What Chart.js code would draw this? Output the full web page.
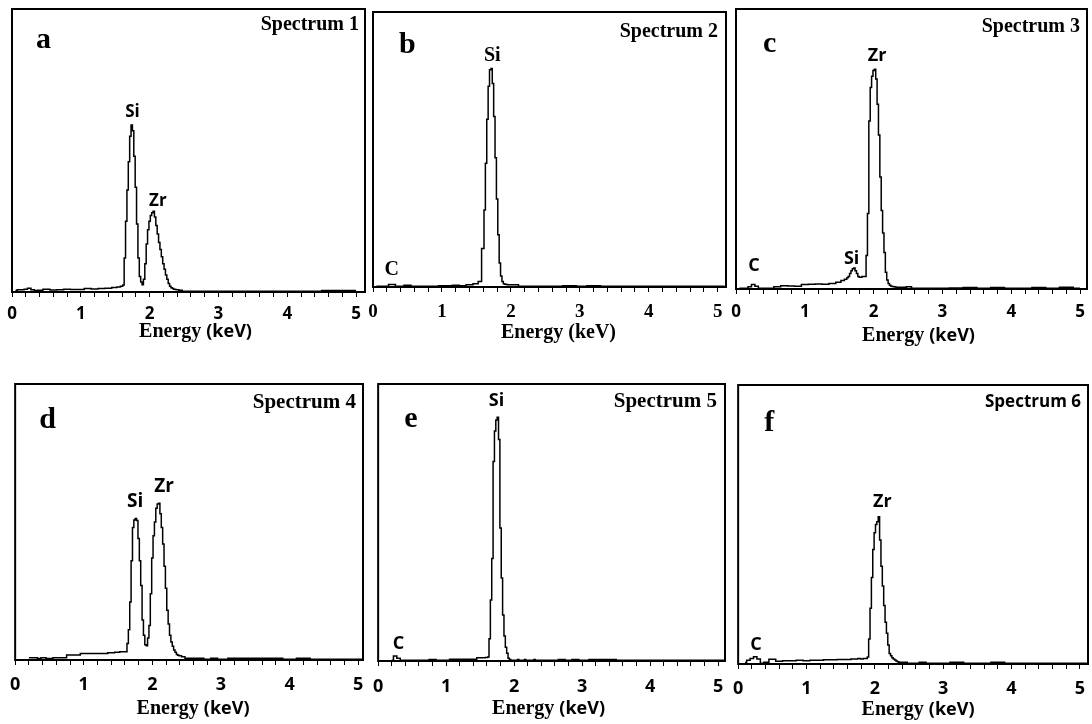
<!DOCTYPE html>
<html>
<head>
<meta charset="utf-8">
<script src="https://cdn.jsdelivr.net/npm/chart.js@4.4.1/dist/chart.umd.min.js"></script>
<style>
  html, body { margin: 0; padding: 0; background: #fff; }
  #wrap { position: relative; width: 1092px; height: 724px; overflow: hidden; }
  .panel { position: absolute; }
</style>
</head>
<body>
<div id="wrap"></div>
<script>
// Energy grid (keV), shared by the six spectra
const energy = [
  0.05, 0.10, 0.15, 0.20, 0.25, 0.30, 0.35, 0.40, 0.50, 0.60, 0.70, 0.80, 0.90, 1.00, 1.10, 1.20, 1.30, 1.40, 1.50, 1.55, 1.60,
  1.62, 1.64, 1.66, 1.68, 1.70, 1.72, 1.74, 1.76, 1.78, 1.80, 1.82, 1.84, 1.86, 1.88, 1.90, 1.92, 1.94, 1.96, 1.98, 2.00,
  2.02, 2.04, 2.06, 2.08, 2.10, 2.12, 2.14, 2.16, 2.18, 2.20, 2.22, 2.24, 2.26, 2.28, 2.30, 2.32, 2.34, 2.36, 2.38, 2.40,
  2.45, 2.50, 2.60, 2.70, 2.80, 2.90, 3.00, 3.20, 3.40, 3.60, 3.80, 4.00, 4.20, 4.40, 4.60, 4.80, 5.00, 5.10
];

// Counts, in % of full scale
const countsA = [
  0.5, 0.8, 0.8, 1.0, 1.3, 0.8, 0.5, 0.6, 1.0, 0.7, 0.8, 1.0, 0.9, 0.9, 1.2, 1.1, 1.2, 1.3, 1.6, 1.8, 2.0,
  2.5, 12, 25, 36, 46, 55, 59, 57, 48, 37, 24, 12, 5.5, 3.5, 2.6, 4.5, 10, 17, 22, 25,
  27, 28, 28.5, 26.5, 23.5, 20.5, 17.5, 15, 12.5, 10, 8, 6, 4.5, 3, 2, 1.5, 1.2, 1, 0.9, 0.8,
  0.6, 0.3, 0.3, 0.3, 0.3, 0.3, 0.3, 0.3, 0.3, 0.3, 0.3, 0.3, 0.3, 0.3, 0.5, 0.5, 0.5, null
];
const countsB = [
  0.3, 0.3, 0.3, 0.3, 0.9, 0.9, 0.3, 0.3, 0.6, 0.3, 0.3, 0.3, 0.3, 0.5, 0.5, 0.6, 0.5, 0.8, 1.2, 2.0, 14,
  28, 45, 61, 73, 79, 79.5, 74, 62, 47, 32, 19, 8.7, 4, 2, 1.2, 1, 0.9, 0.8, 0.8, 0.8,
  0.8, 0.8, 0.8, 0.8, 0.8, 0.3, 0.3, 0.3, 0.3, 0.3, 0.3, 0.3, 0.3, 0.3, 0.3, 0.3, 0.3, 0.3, 0.3, 0.3,
  0.3, 0.3, 0.3, 0.3, 0.5, 0.5, 0.3, 0.5, 0.3, 0.3, 0.3, 0.3, 0.3, 0.3, 0.3, 0.3, 0.3, 0.3
];
const countsC = [
  0.3, 0.3, 0.3, 0.8, 1.6, 1.0, 0.3, 0.3, 0.3, 0.8, 1.2, 1.1, 1.0, 1.6, 1.7, 1.8, 1.7, 2.0, 2.4, 3.0, 3.5,
  4, 4.5, 5.5, 6.5, 7.2, 7.5, 6.5, 5.5, 4.5, 4.2, 4.2, 4.5, 4.5, 4.5, 12, 27, 60, 72, 76, 78,
  78.5, 75, 66, 55, 40, 28, 20, 13, 6, 3.2, 2, 1.3, 1, 0.9, 0.8, 0.7, 0.6, 0.6, 0.6, 0.6,
  0.6, 0.8, 0.3, 0.3, 0.3, 0.3, 0.3, 0.4, 0.5, 0.3, 0.5, 0.3, 0.3, 0.5, 0.3, 0.6, 0.3, null
];
const countsD = [
  null, null, null, 0.8, 0.8, 0.8, 0.5, 0.8, 0.5, 0.8, 0.8, 1.8, 1.8, 2.4, 2.4, 2.4, 2.4, 2.6, 2.8, 3.0, 3.0,
  3, 6, 11, 21, 36, 48, 50.7, 51.3, 50.5, 44, 36, 27, 14.5, 9, 5.5, 5.2, 8, 12.5, 24, 37,
  45, 50, 55, 56.5, 56.8, 53, 48, 42, 34, 26, 18, 13, 9, 6.5, 5, 3.6, 2.8, 2, 1.7, 1.5,
  1.2, 0.6, 0.6, 0.6, 0.3, 0.6, 0.3, 0.6, 0.6, 0.6, 0.6, 0.3, 0.6, 0.3, 0.3, 0.3, 0.3, 0.3
];
const countsE = [
  null, null, null, 0.3, 1.8, 1.0, 0.3, 0.3, 0.3, 0.3, 0.3, 0.5, 0.3, 0.3, 0.6, 0.6, 0.6, 0.6, 1.2, 1.2, 1.3,
  1.4, 8, 22, 37, 72, 83, 87, 88, 80, 48, 30, 16.6, 9, 5, 2.8, 1, 0.5, 0.3, 0.3, 0.3,
  0.3, 0.3, 0.5, 0.3, 0.3, 0.3, 0.3, 0.5, 0.3, 0.3, 0.3, 0.3, 0.3, 0.3, 0.5, 0.3, 0.3, 0.3, 0.3, 0.3,
  0.3, 0.3, 0.3, 0.5, 0.3, 0.5, 0.3, 0.5, 0.5, 0.3, 0.3, 0.3, 0.3, 0.3, 0.3, 0.3, 0.3, 0.3
];
const countsF = [
  null, 0.5, 1.3, 2.0, 2.6, 1.8, 0.3, 0.6, 1.7, 1.0, 1.2, 1.2, 1.3, 1.2, 1.3, 1.3, 1.5, 1.5, 1.6, 1.6, 1.6,
  1.6, 1.6, 1.8, 1.8, 1.8, 1.8, 1.8, 2.0, 2.0, 1.8, 1.8, 2.0, 2.0, 2.0, 2.5, 9, 20, 31, 41, 47,
  50, 51, 52.8, 44.4, 35, 28, 21, 15, 11, 6.8, 3.8, 3, 2.2, 1.8, 1.4, 1.1, 0.8, 0.6, 0.6, 0.6,
  0.6, 0.3, 0.3, 0.6, 0.3, 0.3, 0.3, 0.6, 0.3, 0.3, 0.6, 0.3, 0.3, 0.3, 0.3, 0.3, 0.3, 0.3
];

// Peak annotations: element, energy (keV), label height (% of full scale)
const peaksA = [['Si', 1.75, 63.6], ['Zr', 2.12, 32.2]];
const peaksB = [['Si', 1.73, 84], ['C', 0.27, 6.2]];
const peaksC = [['Zr', 2.05, 83.1], ['Si', 1.68, 10.9], ['C', 0.26, 8.1]];
const peaksD = [['Si', 1.75, 57.4], ['Zr', 2.17, 62.7]];
const peaksE = [['Si', 1.74, 93.9], ['C', 0.30, 6.1]];
const peaksF = [['Zr', 2.11, 58.1], ['C', 0.26, 6.8]];

const letters = ['a', 'b', 'c', 'd', 'e', 'f'];
const spectrumNames = ['Spectrum 1', 'Spectrum 2', 'Spectrum 3', 'Spectrum 4', 'Spectrum 5', 'Spectrum 6'];
const tickLabels = [0, 1, 2, 3, 4, 5];

const SERIF = '"Liberation Serif", "Times New Roman", serif';
const SANS = '"Open Sans", "DejaVu Sans", sans-serif';
const PAD_L = 14, PAD_R = 14, PAD_T = 4, PAD_B = 72;

// box = [left, top, right, bottom] of each frame on the page
const panels = [
  { counts: countsA, peaks: peaksA, box: [12, 9, 365, 292], xMax: 5.13,
    tickFont: SANS, tickSize: 17, tickPad: 7, peakFont: 'bold 17px ' + SANS, specFont: 'bold 20px ' + SERIF,
    letterAt: [24, 39], specAt: [6, 21], serifTitle: false, titleDx: 7, titleDy: 45 },
  { counts: countsB, peaks: peaksB, box: [373, 12, 726, 287], xMax: 5.12,
    tickFont: SERIF, tickSize: 19, tickPad: 9, peakFont: 'bold 20px ' + SERIF, specFont: 'bold 20px ' + SERIF,
    letterAt: [26, 41], specAt: [8, 25], serifTitle: true, titleDx: 9, titleDy: 51 },
  { counts: countsC, peaks: peaksC, box: [736, 9, 1087, 289], xMax: 5.10,
    tickFont: SANS, tickSize: 17, tickPad: 8, peakFont: 'bold 18px ' + SANS, specFont: 'bold 20px ' + SERIF,
    letterAt: [27, 43], specAt: [7, 23], serifTitle: false, titleDx: 7, titleDy: 52 },
  { counts: countsD, peaks: peaksD, box: [15, 384, 363, 660], xMax: 5.07,
    tickFont: SANS, tickSize: 18, tickPad: 9, peakFont: 'bold 19px ' + SANS, specFont: 'bold 21px ' + SERIF,
    letterAt: [24, 44], specAt: [7, 24], serifTitle: false, titleDx: 4, titleDy: 54 },
  { counts: countsE, peaks: peaksE, box: [377, 384, 725, 661], xMax: 5.10,
    tickFont: SANS, tickSize: 18, tickPad: 10, peakFont: 'bold 18px ' + SANS, specFont: 'bold 21px ' + SERIF,
    letterAt: [26, 43], specAt: [8, 23], serifTitle: false, titleDx: -3, titleDy: 53 },
  { counts: countsF, peaks: peaksF, box: [738, 385, 1088, 664], xMax: 5.12,
    tickFont: SANS, tickSize: 18, tickPad: 9, peakFont: 'bold 18px ' + SANS, specFont: 'bold 17px ' + SANS,
    letterAt: [26, 46], specAt: [7, 22], serifTitle: false, titleDx: 5, titleDy: 51 }
];

// frame, panel letter, spectrum name, peak labels and axis title
function textPlugin(p, i) {
  return {
    id: 'panelText' + i,
    afterDraw(chart) {
      const { ctx, chartArea: a, scales } = chart;
      ctx.save();
      ctx.strokeStyle = '#000';
      ctx.lineWidth = 2;
      ctx.strokeRect(a.left, a.top, a.right - a.left, a.bottom - a.top);
      ctx.fillStyle = '#000';

      ctx.font = 'bold 30px ' + SERIF;
      ctx.textAlign = 'left';
      ctx.textBaseline = 'alphabetic';
      ctx.fillText(letters[i], a.left + p.letterAt[0], a.top + p.letterAt[1]);

      ctx.font = p.specFont;
      ctx.textAlign = 'right';
      ctx.fillText(spectrumNames[i], a.right - p.specAt[0], a.top + p.specAt[1]);

      ctx.font = p.peakFont;
      ctx.textAlign = 'center';
      ctx.textBaseline = 'middle';
      p.peaks.forEach(([name, kev, pct]) => {
        ctx.fillText(name, scales.x.getPixelForValue(kev), scales.y.getPixelForValue(pct));
      });

      // "Energy (keV)" - the unit is set in a sans face on most panels
      const parts = p.serifTitle
        ? [['Energy (keV)', 'bold 20px ' + SERIF]]
        : [['Energy ', 'bold 20px ' + SERIF], ['(keV)', 'bold 18px ' + SANS]];
      let total = 0;
      parts.forEach(([t, f]) => { ctx.font = f; total += ctx.measureText(t).width; });
      let x = (a.left + a.right) / 2 + p.titleDx - total / 2;
      const y = a.bottom + p.titleDy;
      ctx.textAlign = 'left';
      ctx.textBaseline = 'alphabetic';
      parts.forEach(([t, f]) => {
        ctx.font = f;
        ctx.fillText(t, x, y);
        x += ctx.measureText(t).width;
      });
      ctx.restore();
    }
  };
}

const wrap = document.getElementById('wrap');
panels.forEach((p, i) => {
  const [l, t, r, b] = p.box;
  const div = document.createElement('div');
  div.className = 'panel';
  div.style.left = (l - PAD_L) + 'px';
  div.style.top = (t - PAD_T) + 'px';
  div.style.width = (r - l + PAD_L + PAD_R) + 'px';
  div.style.height = (b - t + PAD_T + PAD_B) + 'px';
  const canvas = document.createElement('canvas');
  div.appendChild(canvas);
  wrap.appendChild(div);

  new Chart(canvas, {
    type: 'line',
    data: {
      datasets: [{
        data: energy.map((e, k) => ({ x: e, y: p.counts[k] })),
        borderColor: '#000',
        borderWidth: 1.5,
        pointRadius: 0,
        stepped: 'middle',
        fill: false,
        spanGaps: false
      }]
    },
    options: {
      responsive: true,
      maintainAspectRatio: false,
      animation: false,
      layout: { padding: { left: PAD_L, right: PAD_R, top: PAD_T, bottom: 0 } },
      plugins: { legend: { display: false }, tooltip: { enabled: false } },
      scales: {
        x: {
          type: 'linear',
          min: 0,
          max: p.xMax,
          afterFit(scale) { scale.height = PAD_B; },
          border: { display: false },
          grid: { drawOnChartArea: false, drawTicks: true, tickLength: 5, color: '#000', lineWidth: 1 },
          ticks: {
            stepSize: 0.2,
            autoSkip: false,
            maxRotation: 0,
            includeBounds: false,
            padding: p.tickPad,
            color: '#000',
            font: { family: p.tickFont, size: p.tickSize, weight: 'bold' },
            callback(v) {
              const n = Math.round(v);
              return Math.abs(v - n) < 1e-6 && tickLabels.includes(n) ? String(n) : '';
            }
          }
        },
        y: { display: false, min: 0, max: 100 }
      }
    },
    plugins: [textPlugin(p, i)]
  });
});
</script>
</body>
</html>
